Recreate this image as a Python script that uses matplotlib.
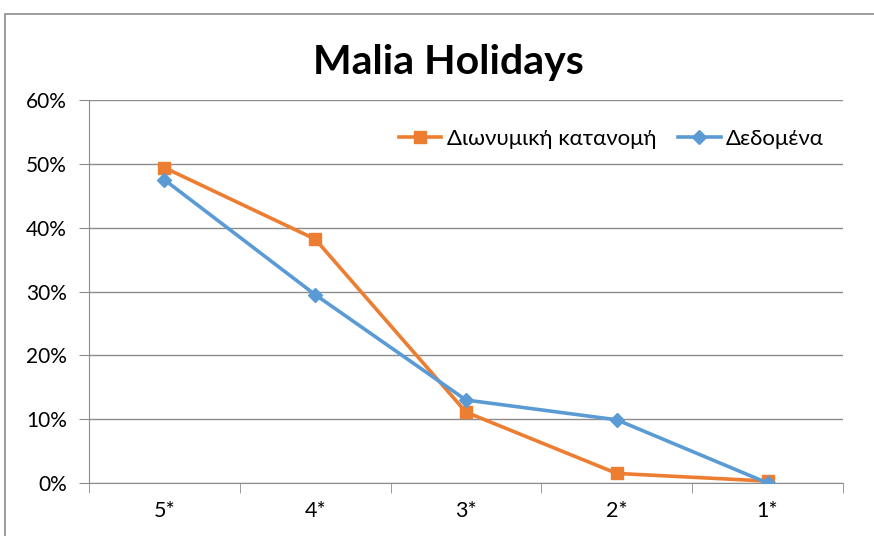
import matplotlib.pyplot as plt
from matplotlib.patches import Rectangle
from matplotlib.ticker import PercentFormatter, FixedLocator
import numpy as np

categories = ['5*', '4*', '3*', '2*', '1*']
binomial = [49.4, 38.2, 11.1, 1.5, 0.3]
observed = [47.5, 29.5, 13.0, 9.9, 0.0]

plt.rcParams['font.family'] = ['Lato', 'DejaVu Sans']

fig = plt.figure(figsize=(8.74, 5.36), dpi=100)
ax = fig.add_axes([89/874, 1-483/536, (843-89)/874, (483-100)/536])

# outer chart frame (cut off on the right and bottom)
top = 1 - 14/536
fig.patches.append(Rectangle((5/874, -0.2), 1.2, top + 0.2, transform=fig.transFigure,
                             fill=False, edgecolor='#8c8c8c', lw=1.2))

x = np.arange(len(categories))
ax.plot(x, binomial, color='#ED7D31', lw=2.6, marker='s', markersize=8,
        label='Διωνυμική κατανομή', zorder=3)
ax.plot(x, observed, color='#5B9BD5', lw=2.6, marker='D', markersize=7,
        label='Δεδομένα', zorder=4)

ax.set_xlim(-0.5, len(categories) - 0.5)
ax.set_ylim(0, 60)
ax.set_yticks(range(0, 61, 10))
ax.yaxis.set_major_formatter(PercentFormatter(decimals=0))
ax.yaxis.grid(True, color='#8c8c8c', lw=1)
ax.set_axisbelow(True)

ax.set_xticks(x)
ax.set_xticklabels(categories)
ax.xaxis.set_minor_locator(FixedLocator(np.arange(-0.5, len(categories), 1)))
ax.tick_params(axis='x', which='major', length=0, pad=13, labelsize=15.5)
ax.tick_params(axis='x', which='minor', length=7, color='#8c8c8c', direction='out')
ax.tick_params(axis='y', length=7, color='#8c8c8c', labelsize=15, pad=9)

for s in ['top', 'right']:
    ax.spines[s].set_visible(False)
for s in ['left', 'bottom']:
    ax.spines[s].set_color('#8c8c8c')

fig.text(448/874, 1-62/536, 'Malia Holidays', ha='center', va='center',
         fontsize=29.5, fontweight='bold')

fig.legend(*ax.get_legend_handles_labels(), loc='center right',
           bbox_to_anchor=(824/874, 1-139/536), ncol=2, frameon=False,
           fontsize=16, handlelength=1.9, columnspacing=1.0, handletextpad=0.25,
           borderpad=0, borderaxespad=0)

fig.savefig('out.png', dpi=100)
